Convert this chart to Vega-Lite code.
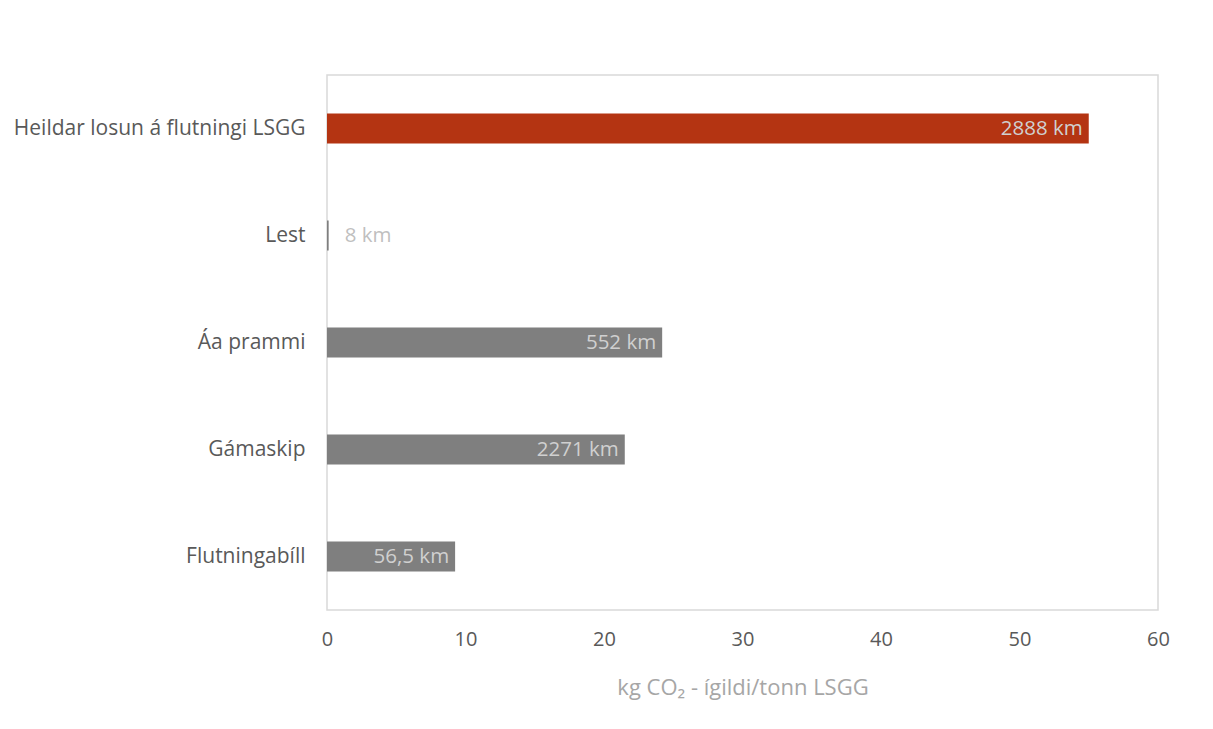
{
  "$schema": "https://vega.github.io/schema/vega-lite/v6.json",
  "autosize": {"type": "none"},
  "width": 831,
  "height": 535,
  "padding": {"left": 327, "top": 75, "right": 55, "bottom": 119},
  "background": "white",
  "config": {
    "view": {"stroke": "#d9d9d9", "strokeWidth": 1.5},
    "font": "Open Sans"
  },
  "data": {
    "values": [
      {"flokkur": "Heildar losun á flutningi LSGG", "gildi": 55.0, "merki": "2888 km", "heild": "já"},
      {"flokkur": "Lest", "gildi": 0.12, "merki": "8 km", "heild": "nei"},
      {"flokkur": "Áa prammi", "gildi": 24.2, "merki": "552 km", "heild": "nei"},
      {"flokkur": "Gámaskip", "gildi": 21.5, "merki": "2271 km", "heild": "nei"},
      {"flokkur": "Flutningabíll", "gildi": 9.25, "merki": "56,5 km", "heild": "nei"}
    ]
  },
  "encoding": {
    "y": {
      "field": "flokkur",
      "type": "nominal",
      "sort": null,
      "title": null,
      "axis": {
        "domain": false,
        "ticks": false,
        "labelFontSize": 21,
        "labelColor": "#595959",
        "labelPadding": 22,
        "labelLimit": 400,
        "labelFont": "Open Sans"
      }
    },
    "x": {
      "field": "gildi",
      "type": "quantitative",
      "scale": {"domain": [0, 60], "nice": false},
      "title": "kg CO₂ - ígildi/tonn LSGG",
      "axis": {
        "values": [0, 10, 20, 30, 40, 50, 60],
        "grid": false,
        "domain": false,
        "ticks": false,
        "labelFlush": false,
        "labelFontSize": 20,
        "labelColor": "#595959",
        "labelPadding": 19,
        "labelFont": "Open Sans",
        "titleFontSize": 22,
        "titleFontWeight": "normal",
        "titleColor": "#a6a6a6",
        "titlePadding": 28,
        "titleFont": "Open Sans"
      }
    }
  },
  "layer": [
    {
      "mark": {"type": "bar", "size": 30},
      "encoding": {
        "color": {
          "field": "heild",
          "type": "nominal",
          "scale": {"domain": ["já", "nei"], "range": ["#b43412", "#7f7f7f"]},
          "legend": null
        }
      }
    },
    {
      "transform": [{"filter": "datum.gildi > 1"}],
      "mark": {"type": "text", "align": "right", "baseline": "middle", "dx": -6, "fontSize": 20.5, "color": "#d0d0d0", "font": "Open Sans"},
      "encoding": {"text": {"field": "merki"}}
    },
    {
      "transform": [{"filter": "datum.gildi <= 1"}],
      "mark": {"type": "text", "align": "left", "baseline": "middle", "dx": 16, "fontSize": 20.5, "color": "#bfbfbf", "font": "Open Sans"},
      "encoding": {"text": {"field": "merki"}}
    }
  ]
}
